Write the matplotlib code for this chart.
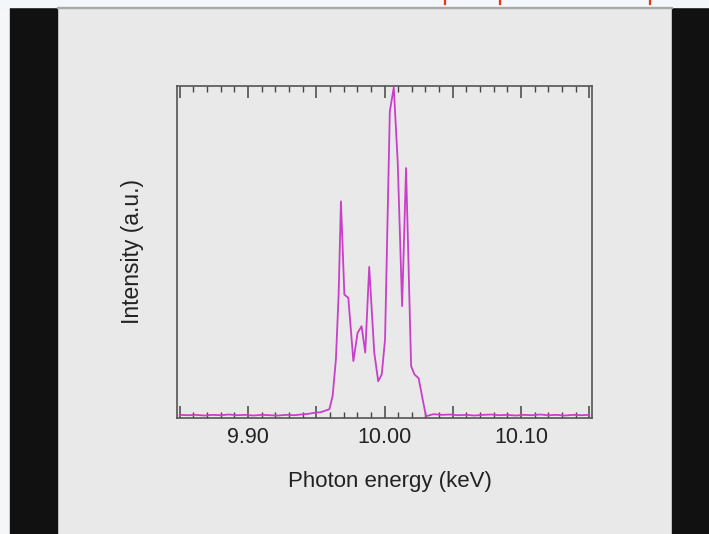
import numpy as np
import matplotlib
matplotlib.use("Agg")
import matplotlib.pyplot as plt
from matplotlib.patches import Rectangle
from matplotlib.lines import Line2D
from matplotlib.ticker import MultipleLocator, FuncFormatter

# spectrum (keV, arbitrary units)
energy = [9.850, 9.856, 9.862, 9.868, 9.874, 9.880, 9.886, 9.892, 9.898,
          9.904, 9.910, 9.916, 9.922, 9.928, 9.934, 9.9387, 9.9440, 9.9482,
          9.9533, 9.9596, 9.9620, 9.9644, 9.9664, 9.9681, 9.9706, 9.9735,
          9.9772, 9.9803, 9.9832, 9.9859, 9.9888, 9.9925, 9.9954, 9.9980,
          10.0004, 10.0039, 10.0068, 10.0097, 10.0129, 10.0158, 10.0195,
          10.0219, 10.0250, 10.0282, 10.0304, 10.0358, 10.042, 10.048,
          10.054, 10.060, 10.066, 10.072, 10.078, 10.084, 10.090, 10.096,
          10.102, 10.108, 10.114, 10.120, 10.126, 10.132, 10.138, 10.144,
          10.150]
intensity = [0.006, 0.005, 0.006, 0.004, 0.006, 0.005, 0.007, 0.005, 0.006,
             0.004, 0.006, 0.005, 0.004, 0.006, 0.005, 0.007, 0.009, 0.012,
             0.014, 0.023, 0.063, 0.174, 0.371, 0.654, 0.371, 0.361,
             0.169, 0.255, 0.275, 0.195, 0.455, 0.195, 0.108, 0.129,
             0.235, 0.927, 1.000, 0.771, 0.336, 0.755, 0.154,
             0.129, 0.117, 0.048, 0.002, 0.008, 0.006, 0.007,
             0.005, 0.006, 0.004, 0.006, 0.007, 0.005, 0.006, 0.004,
             0.006, 0.005, 0.007, 0.005, 0.006, 0.004, 0.006, 0.005,
             0.006]
tick_labels = {9.90: "9.90", 10.00: "10.00", 10.10: "10.10"}

W, H = 709, 534
fig = plt.figure(figsize=(W / 100, H / 100), dpi=100, facecolor="#e9e9e9")
plt.rcParams['font.family'] = ['Liberation Sans', 'DejaVu Sans']

# screenshot frame around the slide
fig.patches.append(Rectangle((0, 0), 10 / W, 1, transform=fig.transFigure, color="#f4f6f8", zorder=0))
fig.patches.append(Rectangle((10 / W, 0), 47 / W, 1, transform=fig.transFigure, color="#111111", zorder=0))
fig.patches.append(Rectangle((672 / W, 0), 37 / W, 1, transform=fig.transFigure, color="#111111", zorder=0))
fig.patches.append(Rectangle((0, 1 - 7 / H), 1, 7 / H, transform=fig.transFigure, color="#f3f7fc", zorder=1))
fig.patches.append(Rectangle((57 / W, 1 - 8 / H), 615 / W, 1.2 / H, transform=fig.transFigure, color="#a8a8a8", zorder=1))
# bits of a red title cut off by the screenshot's top edge
for px in [445, 500, 650]:
    fig.lines.append(Line2D([px / W, px / W], [1, 1 - 3.5 / H], transform=fig.transFigure,
                            color="#ee3311", lw=1.6, zorder=2))

ax = fig.add_axes([177 / W, 1 - 417.5 / H, 415 / W, 331.5 / H])
ax.set_facecolor("#e9e9e9")
ax.plot(energy, intensity, color="#c93fc9", lw=1.3)

ax.set_xlim(9.848, 10.152)
ax.set_ylim(-0.002, 1.004)
ax.xaxis.set_major_locator(MultipleLocator(0.05))
ax.xaxis.set_minor_locator(MultipleLocator(0.01))
ax.xaxis.set_major_formatter(FuncFormatter(
    lambda v, p: tick_labels.get(round(v, 2), "")))
ax.set_yticks([])
ax.tick_params(axis="x", which="both", direction="in", top=True, bottom=True,
               color="#444444", labelsize=15.5, labelcolor="#222222", pad=7)
ax.tick_params(axis="x", which="major", length=8.5, width=1.1)
ax.tick_params(axis="x", which="minor", length=4.3, width=1.0)
for s in ax.spines.values():
    s.set_color("#555555")
    s.set_linewidth(1.2)

fig.text(390 / W, 1 - 482 / H, "Photon energy (keV)", fontsize=16,
         ha="center", va="center", color="#222222")
fig.text(132 / W, 1 - 252 / H, "Intensity (a.u.)", fontsize=16.5,
         rotation=90, ha="center", va="center", color="#222222")

fig.savefig("out.png", dpi=100, facecolor=fig.get_facecolor())
